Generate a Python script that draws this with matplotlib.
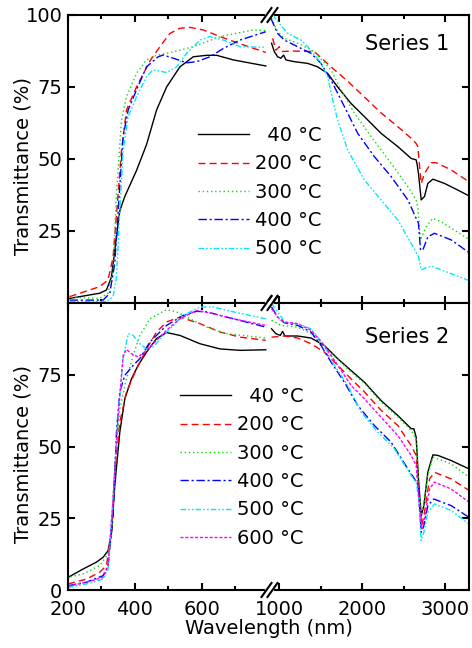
import numpy as np
import matplotlib
matplotlib.use('Agg')
import matplotlib.pyplot as plt

# ---- data ----
# Series 1
s1_40_wl = [205, 295, 315, 330, 345, 355, 370, 405, 435, 465, 495, 535, 575, 615, 645, 695, 792,
            907, 940, 980, 1020, 1052, 1080, 1181, 1343, 1463, 1584, 1705, 1866, 2028, 2229, 2431,
            2592, 2652, 2665, 2680, 2713, 2753, 2793, 2854, 2995, 3156, 3290]
s1_40_t = [1.6, 3.4, 4.5, 9, 23, 32, 37, 46, 55, 67, 75, 82, 85.5, 86, 86, 84.4, 82.3,
           90.2, 87.3, 85.5, 85, 86.1, 84.4, 83.8, 83.2, 82, 79.7, 75, 69.3, 64.7, 58.9, 54.3,
           50.2, 49.7, 48, 45, 35.8, 37, 41.5, 43, 41.5, 39.2, 37.2]
s1_200_wl = [205, 295, 320, 335, 350, 360, 375, 405, 445, 475, 505, 535, 565, 605, 655, 715, 792,
             919, 960, 1000, 1040, 1141, 1423, 1625, 1826, 2028, 2229, 2431, 2592, 2652, 2672,
             2713, 2753, 2834, 2894, 3075, 3290]
s1_200_t = [2.2, 5.7, 8, 16, 38, 53, 67, 75, 84, 89, 93.6, 95.4, 95.7, 94.8, 92.5, 90, 87,
            91.9, 87.8, 89, 87.3, 87.5, 87.3, 82, 77, 71.5, 66, 61.2, 57.2, 55.4, 54.3,
            41.5, 45, 48.7, 48.7, 46.2, 42.1]
s1_300_wl = [200, 203, 295, 320, 335, 345, 360, 375, 405, 435, 465, 495, 535, 575, 615, 655, 715,
             755, 792, 907, 980, 1060, 1222, 1423, 1625, 1746, 1907, 2108, 2350, 2552, 2652, 2672,
             2705, 2773, 2854, 2955, 3290]
s1_300_t = [7, 2, 1.6, 3.4, 11.5, 38, 63.5, 71.6, 79.7, 84.4, 86, 86.7, 87.8, 89, 90.7, 92.5, 93.9,
            94.8, 94.6, 98.8, 94.2, 91.9, 90.2, 87.3, 80.9, 74, 65.9, 57.8, 48.5, 40.4, 35.8, 33.4,
            21.9, 26.5, 29.4, 28.2, 22.1]
s1_400_wl = [205, 305, 325, 340, 353, 365, 380, 405, 435, 470, 485, 515, 555, 585, 625, 665, 715,
             792, 899, 980, 1060, 1222, 1383, 1504, 1625, 1786, 1947, 2148, 2350, 2552, 2652, 2680,
             2705, 2733, 2793, 2874, 3075, 3290]
s1_400_t = [1, 1, 3.4, 13.8, 37, 57.8, 67, 74, 82, 85.5, 86.1, 85, 83.4, 83.8, 85.5, 88.4, 91.3,
            94.2, 98.8, 93.6, 91.3, 89, 86.7, 83.2, 77.4, 68.2, 58.9, 50.8, 43.9, 35.8, 29.4, 27.7,
            18.4, 18.4, 23, 24.2, 21.9, 17.5]
s1_500_wl = [205, 315, 335, 345, 355, 365, 380, 405, 435, 455, 475, 495, 525, 555, 595, 625, 665,
             715, 792, 919, 1000, 1101, 1262, 1383, 1504, 1584, 1645, 1705, 1826, 2028, 2229, 2431,
             2592, 2680, 2713, 2753, 2834, 2955, 3290]
s1_500_t = [0.5, 0.5, 2.2, 9, 32, 53, 64.7, 71.6, 78.6, 81, 80.5, 80, 82, 86.7, 91.3, 92.5, 91.3,
            89, 88.8, 100, 97.1, 93.6, 91.3, 87.8, 83.2, 78.6, 70.5, 63.5, 53.1, 42.7, 35.8, 28.8,
            20.7, 16.1, 11.5, 12, 12.8, 11.5, 7.8]

# Series 2
s2_40_wl = [200, 245, 285, 305, 320, 330, 340, 355, 370, 390, 410, 435, 465, 495, 535, 595, 655,
            715, 792, 907, 960, 1012, 1040, 1068, 1222, 1383, 1544, 1705, 1866, 2028, 2229, 2431,
            2592, 2624, 2652, 2680, 2713, 2745, 2793, 2854, 2914, 3075, 3290]
s2_40_t = [4.4, 7.3, 9.7, 11.4, 13.7, 20, 36.4, 55, 66.6, 73.6, 78.3, 82.9, 87.6, 89.7, 88.7, 85.8, 84,
           83.5, 83.7, 91, 89.3, 88.7, 90.1, 88.5, 88.5, 87.8, 85.2, 80.6, 76.5, 72.4, 66, 60.8,
           56.2, 56.2, 53.3, 38.7, 25.9, 29.4, 41, 47.1, 46.9, 45.1, 42.2]
s2_200_wl = [200, 255, 295, 315, 330, 340, 355, 375, 405, 435, 465, 495, 535, 595, 655, 715, 792,
             907, 1060, 1222, 1383, 1544, 1705, 1866, 2028, 2229, 2431, 2592, 2652, 2690, 2720,
             2753, 2814, 2874, 3075, 3290]
s2_200_t = [2.1, 3.8, 6.2, 8.5, 20, 41, 58.5, 69, 77, 84, 89.9, 93.4, 95.1, 92.8, 89.9, 88.1, 87,
            88.1, 88.5, 87.8, 85.8, 82.9, 78.3, 73.6, 69, 62.6, 57.3, 50.3, 46.9, 31.7, 22.4,
            27.1, 38.7, 41, 38.7, 34.7]
s2_300_wl = [200, 205, 245, 295, 320, 330, 340, 355, 375, 395, 415, 445, 495, 525, 565, 615, 675,
             792, 907, 1020, 1222, 1383, 1544, 1705, 1866, 2028, 2229, 2431, 2592, 2652, 2680,
             2713, 2745, 2793, 2854, 3075, 3290]
s2_300_t = [5.5, 4.5, 5.6, 8.5, 12.6, 20, 43.4, 63, 73.6, 81.7, 88.7, 94.5, 97.7, 96.9, 94.5, 91.6, 89.3,
            87.8, 94, 92.2, 91.6, 89.3, 84.7, 80.3, 76, 72, 65.5, 60.3, 55.6, 52.5, 38,
            26.5, 30, 40, 46.3, 44, 39.3]
s2_400_wl = [200, 255, 305, 320, 335, 345, 355, 370, 395, 415, 445, 495, 545, 585, 615, 675, 792,
             907, 980, 1060, 1222, 1383, 1504, 1625, 1786, 1947, 2148, 2350, 2552, 2632, 2680,
             2713, 2745, 2793, 2866, 3075, 3290]
s2_400_t = [1.5, 2.7, 5, 8.5, 26, 55, 69, 74.8, 78.3, 80.6, 86.4, 92.2, 95.7, 97.1, 96.9, 95.1, 91.6,
            98.6, 95.1, 93.1, 92.2, 89.9, 85.2, 79.4, 72.4, 64.3, 57.3, 51.5, 42.2, 38.7, 36.4,
            20.1, 22.4, 29.4, 31.7, 29.4, 25.3]
s2_500_wl = [200, 255, 305, 320, 335, 350, 365, 380, 395, 415, 435, 455, 495, 545, 595, 635, 695,
             792, 907, 980, 1040, 1060, 1222, 1383, 1544, 1665, 1826, 1987, 2189, 2390, 2592, 2652,
             2684, 2713, 2745, 2793, 2874, 3075, 3290]
s2_500_t = [0.9, 2.1, 3.8, 7.3, 31.7, 60.8, 80.6, 89.3, 88.7, 85.8, 84, 84.7, 89.9, 95.7, 98.6, 98.6, 96.9,
            94.5, 99.8, 96.9, 94.5, 93.1, 92.8, 91, 85.2, 78.3, 71.3, 62, 55, 49.2, 39.9, 37.6,
            31.7, 17.2, 20.1, 27.1, 30, 27.7, 23]
s2_600_wl = [200, 255, 305, 320, 335, 350, 365, 375, 390, 410, 435, 465, 495, 535, 585, 635, 695,
             792, 907, 980, 1060, 1222, 1383, 1544, 1705, 1866, 2028, 2229, 2431, 2592, 2652, 2690,
             2720, 2753, 2814, 2874, 3075, 3290]
s2_600_t = [1.3, 2.7, 4.4, 8.5, 31.7, 60.8, 81.7, 83.8, 82.3, 81.2, 83.5, 87, 90.5, 94.5, 97.4, 96.3, 94.5,
            92.2, 98, 95.1, 93.4, 92.8, 90.5, 85.2, 78.3, 71.3, 66.6, 60.2, 53.8, 46.9, 43.4, 29.4,
            21.3, 24.8, 35.2, 37.6, 35.2, 30.6]

labels = ['\u200740 °C', '200 °C', '300 °C', '400 °C', '500 °C', '600 °C']
colors = ['k', '#ff0000', '#00e000', '#0000ff', '#00e8ff', '#ff00ff']
styles = ['-', (0, (5, 3)), (0, (1, 2)), (0, (6, 2, 1.5, 2)), (0, (4, 1.5, 1.2, 1.5, 1.2, 1.5)), (0, (2.2, 1.3))]

series1 = [(s1_40_wl, s1_40_t), (s1_200_wl, s1_200_t), (s1_300_wl, s1_300_t),
           (s1_400_wl, s1_400_t), (s1_500_wl, s1_500_t)]
series2 = [(s2_40_wl, s2_40_t), (s2_200_wl, s2_200_t), (s2_300_wl, s2_300_t),
           (s2_400_wl, s2_400_t), (s2_500_wl, s2_500_t), (s2_600_wl, s2_600_t)]


# broken x axis: 200-800 nm on the left half, 870-3290 nm on the right half
def fwd(x):
    x = np.asarray(x, float)
    return np.where(x <= 800, (x - 200) / 600,
                    np.where(x >= 870, 1 + (x - 870) / 2420, 1 + 0 * x))


def inv(u):
    u = np.asarray(u, float)
    return np.where(u <= 1, 200 + 600 * u, 870 + (u - 1) * 2420)


def split(wl, t):
    wl = np.asarray(wl, float)
    t = np.asarray(t, float)
    i = np.searchsorted(wl, 850)
    return np.insert(wl, i, np.nan), np.insert(t, i, np.nan)


W, H = 472, 648
fig = plt.figure(figsize=(W / 100, H / 100), dpi=100)
ax1 = fig.add_axes([68 / W, 1 - 303 / H, 401 / W, 288 / H])
ax2 = fig.add_axes([68 / W, 1 - 590 / H, 401 / W, 287 / H])

for ax, data, title, ty, lpos in [(ax1, series1, 'Series 1', 0.899, (198, 126)),
                                  (ax2, series2, 'Series 2', 0.883, (180, 387))]:
    for k, (wl, t) in enumerate(data):
        x, y = split(wl, t)
        ax.plot(x, y, color=colors[k], linestyle=styles[k], lw=1.0, label=labels[k])
    ax.set_xscale('function', functions=(fwd, inv))
    ax.set_xlim(200, 3290)
    ax.set_ylim(0, 100)
    ax.set_xticks([200, 400, 600, 1000, 2000, 3000])
    ax.set_xticks([300, 500, 700, 1500, 2500], minor=True)
    ax.tick_params(which='both', direction='in', top=True, right=True, width=1.5, labelsize=14)
    ax.tick_params(which='major', length=5, pad=4)
    ax.tick_params(which='minor', length=3)
    ax.tick_params(axis='x', pad=7)
    for sp in ax.spines.values():
        sp.set_linewidth(1.5)
    ax.set_ylabel('Transmittance (%)', fontsize=14, va='center')
    ax.yaxis.set_label_coords((23 - 68) / 401, 0.474)
    ax.text(0.95, ty, title, transform=ax.transAxes, ha='right', va='center', fontsize=15)
    ax.legend(loc='upper left', bbox_to_anchor=(lpos[0] / W, 1 - lpos[1] / H),
              bbox_transform=fig.transFigure, frameon=False, fontsize=14,
              handlelength=2.6, handletextpad=0.35, labelspacing=0.48,
              borderpad=0, borderaxespad=0)
    # break marks
    w, h = 401.0, 287.0
    for yb in (0, 1):
        ax.plot([0.5 - 2 / w, 0.5 + 3 / w], [yb, yb], color='white', lw=3,
                transform=ax.transAxes, clip_on=False, zorder=5)
        for dx in (-2, 4):
            ax.plot([0.5 + (dx - 5) / w, 0.5 + (dx + 5) / w], [yb - 7 / h, yb + 7 / h],
                    color='k', lw=1.5, transform=ax.transAxes, clip_on=False, zorder=6)

ax1.set_yticks([25, 50, 75, 100])
ax1.tick_params(axis='x', labelbottom=False)
ax2.set_yticks([0, 25, 50, 75])
ax2.set_xlabel('Wavelength (nm)', fontsize=14, labelpad=0)

fig.savefig('out.png', dpi=100)
